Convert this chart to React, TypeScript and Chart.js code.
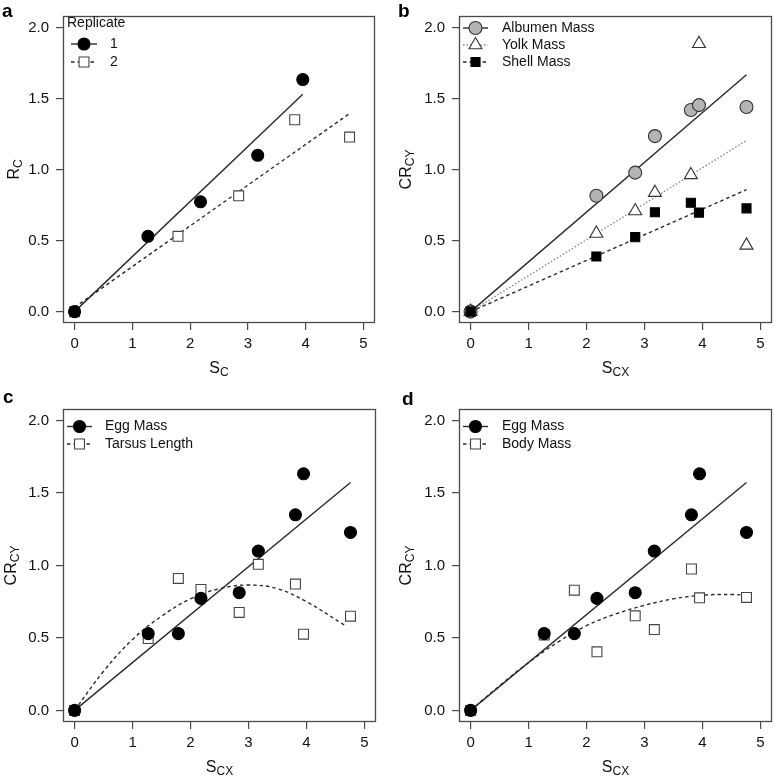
import React, { useEffect, useRef } from 'react';
import { Chart, registerables } from 'chart.js';

Chart.register(...registerables);

// ---------- tick labels ----------
const X_TICKS = [0, 1, 2, 3, 4, 5];
const Y_TICKS = [0, 0.5, 1.0, 1.5, 2.0];

// ---------- panel a ----------
const A_REP1_X = [0, 1.27, 2.18, 3.17, 3.95];
const A_REP1_Y = [0, 0.53, 0.773, 1.10, 1.633];
const A_REP2_X = [0, 1.79, 2.84, 3.81, 4.76];
const A_REP2_Y = [0, 0.53, 0.815, 1.35, 1.228];
const A_FIT1_X = [0, 3.95];
const A_FIT1_Y = [0, 1.53];
const A_FIT2_X = [0, 4.78];
const A_FIT2_Y = [0.03, 1.40];

// ---------- panel b ----------
const B_X = [0, 2.17, 2.84, 3.18, 3.80, 3.94, 4.76];
const B_ALBUMEN = [0, 0.815, 0.978, 1.235, 1.419, 1.453, 1.44];
const B_YOLK = [0, 0.55, 0.708, 0.837, 0.962, 1.885, 0.466];
const B_SHELL = [0, 0.388, 0.524, 0.699, 0.766, 0.697, 0.727];
const B_FIT_X = [0, 4.76];
const B_FIT_ALBUMEN = [0, 1.666];
const B_FIT_YOLK = [0, 1.204];
const B_FIT_SHELL = [0, 0.858];

// ---------- panels c, d ----------
const CD_X = [0, 1.27, 1.79, 2.18, 2.84, 3.17, 3.81, 3.95, 4.76];
const EGG_MASS = [0, 0.53, 0.53, 0.773, 0.812, 1.10, 1.35, 1.633, 1.228];
const TARSUS_LENGTH = [0, 0.496, 0.911, 0.835, 0.676, 1.008, 0.872, 0.526, 0.65];
const BODY_MASS = [0, 0.52, 0.83, 0.404, 0.653, 0.558, 0.976, 0.777, 0.78];
const EGG_FIT_X = [0, 4.76];
const EGG_FIT_Y = [0, 1.573];
const TARSUS_CURVE_X = [0, 0.5, 1, 1.5, 2, 2.5, 3, 3.5, 4, 4.65];
const TARSUS_CURVE_Y = [0, 0.27, 0.49, 0.65, 0.77, 0.84, 0.865, 0.84, 0.75, 0.59];
const BODY_CURVE_X = [0, 0.5, 1, 1.5, 2, 2.5, 3, 3.5, 4, 4.5, 4.76];
const BODY_CURVE_Y = [0, 0.17, 0.33, 0.47, 0.585, 0.665, 0.725, 0.77, 0.795, 0.8, 0.795];

// ---------- styles ----------
const FONT = '"Liberation Sans", Arial, Helvetica, sans-serif';
const TEXT = '#111';
const AXIS = '#4a4a4a';

const MARKERS: Record<string, any> = {
  filledCircle: { pointStyle: 'circle', radius: 6, fill: '#000', stroke: '#000' },
  openSquare: { pointStyle: 'rect', radius: 7, fill: '#fff', stroke: '#444' },
  greyCircle: { pointStyle: 'circle', radius: 6.5, fill: '#b4b4b4', stroke: '#333' },
  openTriangle: { pointStyle: 'triangle', radius: 7.5, fill: '#fff', stroke: '#333' },
  filledSquare: { pointStyle: 'rect', radius: 6.4, fill: '#000', stroke: '#000' },
};
const LINES: Record<string, any> = {
  solid: { color: '#2a2a2a', dash: [], width: 1.4 },
  dashed: { color: '#2a2a2a', dash: [3.5, 3], width: 1.4 },
  dotted: { color: '#888', dash: [1.5, 2], width: 1.4 },
};

function pts(xs: number[], ys: number[]) {
  return xs.map((x, i) => ({ x, y: ys[i] }));
}
function pointDs(label: string, xs: number[], ys: number[], marker: string, order: number) {
  const m = MARKERS[marker];
  return {
    label, data: pts(xs, ys), showLine: false,
    pointStyle: m.pointStyle, pointRadius: m.radius, pointHoverRadius: m.radius,
    pointBackgroundColor: m.fill, pointBorderColor: m.stroke, pointBorderWidth: 1.1, order,
  };
}
function lineDs(label: string, xs: number[], ys: number[], line: string, tension = 0) {
  const l = LINES[line];
  return {
    label, data: pts(xs, ys), showLine: true, pointRadius: 0, pointHoverRadius: 0,
    borderColor: l.color, borderWidth: l.width, borderDash: l.dash, tension, fill: false, order: 20,
  };
}

function drawMarker(ctx: CanvasRenderingContext2D, m: any, x: number, y: number) {
  ctx.beginPath();
  if (m.pointStyle === 'circle') {
    ctx.arc(x, y, m.radius, 0, Math.PI * 2);
  } else if (m.pointStyle === 'rect') {
    const s = m.radius * Math.SQRT1_2;
    ctx.rect(x - s, y - s, 2 * s, 2 * s);
  } else {
    for (let k = 0; k < 3; k++) {
      const ang = (k * 2 * Math.PI) / 3;
      const px = x + Math.sin(ang) * m.radius;
      const py = y - Math.cos(ang) * m.radius;
      if (k === 0) ctx.moveTo(px, py); else ctx.lineTo(px, py);
    }
  }
  ctx.closePath();
  ctx.setLineDash([]);
  ctx.fillStyle = m.fill;
  ctx.fill();
  ctx.strokeStyle = m.stroke;
  ctx.lineWidth = 1.1;
  ctx.stroke();
}

const MAIN_FONT = `16px ${FONT}`;
const SUB_FONT = `12px ${FONT}`;

function drawSub(ctx: CanvasRenderingContext2D, main: string, sub: string, cx: number, baseline: number) {
  ctx.font = MAIN_FONT;
  const w1 = ctx.measureText(main).width;
  ctx.font = SUB_FONT;
  const w2 = ctx.measureText(sub).width;
  const x0 = cx - (w1 + w2) / 2;
  ctx.textAlign = 'left';
  ctx.textBaseline = 'alphabetic';
  ctx.fillStyle = TEXT;
  ctx.font = MAIN_FONT;
  ctx.fillText(main, x0, baseline);
  ctx.font = SUB_FONT;
  ctx.fillText(sub, x0 + w1, baseline + 3);
}

function overlay(cfg: any) {
  return {
    id: 'overlay_' + cfg.key,
    afterDraw(chart: any) {
      const ctx: CanvasRenderingContext2D = chart.ctx;
      const a = chart.chartArea;
      ctx.save();
      // plot box
      ctx.setLineDash([]);
      ctx.strokeStyle = AXIS;
      ctx.lineWidth = 1.3;
      ctx.strokeRect(Math.round(a.left) + 0.5, Math.round(a.top) + 0.5,
        Math.round(a.right - a.left) - 1, Math.round(a.bottom - a.top) - 1);
      // panel letter
      ctx.fillStyle = '#000';
      ctx.font = `bold 19px ${FONT}`;
      ctx.textAlign = 'left';
      ctx.textBaseline = 'alphabetic';
      ctx.fillText(cfg.letter.text, cfg.letter.x, cfg.letter.y);
      // axis titles
      drawSub(ctx, cfg.xTitle.main, cfg.xTitle.sub, (a.left + a.right) / 2, cfg.xTitle.y);
      ctx.save();
      ctx.translate(cfg.yTitle.x, (a.top + a.bottom) / 2);
      ctx.rotate(-Math.PI / 2);
      drawSub(ctx, cfg.yTitle.main, cfg.yTitle.sub, 0, 0);
      ctx.restore();
      // legend
      const lg = cfg.legend;
      ctx.font = `14px ${FONT}`;
      ctx.fillStyle = TEXT;
      ctx.textBaseline = 'middle';
      if (lg.title) {
        ctx.textAlign = 'left';
        ctx.fillText(lg.title, lg.titleX, lg.titleY);
      }
      lg.items.forEach((it: any, i: number) => {
        const y = lg.rows[i];
        const l = LINES[it.line];
        ctx.beginPath();
        ctx.setLineDash(l.dash);
        ctx.strokeStyle = l.color;
        ctx.lineWidth = l.width;
        ctx.moveTo(lg.x0, y);
        ctx.lineTo(lg.x1, y);
        ctx.stroke();
        drawMarker(ctx, MARKERS[it.marker], (lg.x0 + lg.x1) / 2, y);
        ctx.font = `14px ${FONT}`;
        ctx.fillStyle = TEXT;
        ctx.textAlign = 'left';
        ctx.textBaseline = 'middle';
        ctx.fillText(it.label, lg.textX, y);
      });
      ctx.restore();
    },
  };
}

const PANELS: any[] = [
  {
    key: 'a', left: 0, top: 0, width: 387, height: 388,
    padding: { left: 0, top: 11, right: 12, bottom: 0 }, yAxisW: 63, xAxisH: 65,
    letter: { text: 'a', x: 2, y: 17 },
    yTitle: { main: 'R', sub: 'C', x: 19 },
    xTitle: { main: 'S', sub: 'C', y: 373 },
    legend: {
      title: 'Replicate', titleX: 67, titleY: 23, x0: 71, x1: 97, textX: 110, rows: [44, 62],
      items: [
        { label: '1', marker: 'filledCircle', line: 'solid' },
        { label: '2', marker: 'openSquare', line: 'dashed' },
      ],
    },
    datasets: [
      lineDs('Fit 1', A_FIT1_X, A_FIT1_Y, 'solid'),
      lineDs('Fit 2', A_FIT2_X, A_FIT2_Y, 'dashed'),
      pointDs('1', A_REP1_X, A_REP1_Y, 'filledCircle', 1),
      pointDs('2', A_REP2_X, A_REP2_Y, 'openSquare', 2),
    ],
  },
  {
    key: 'b', left: 387, top: 0, width: 387, height: 388,
    padding: { left: 0, top: 11, right: 2, bottom: 0 }, yAxisW: 72, xAxisH: 65,
    letter: { text: 'b', x: 11, y: 17 },
    yTitle: { main: 'CR', sub: 'CY', x: 24 },
    xTitle: { main: 'S', sub: 'CX', y: 373 },
    legend: {
      x0: 76, x1: 101, textX: 115, rows: [28, 45, 62],
      items: [
        { label: 'Albumen Mass', marker: 'greyCircle', line: 'solid' },
        { label: 'Yolk Mass', marker: 'openTriangle', line: 'dotted' },
        { label: 'Shell Mass', marker: 'filledSquare', line: 'dashed' },
      ],
    },
    datasets: [
      lineDs('Albumen fit', B_FIT_X, B_FIT_ALBUMEN, 'solid'),
      lineDs('Yolk fit', B_FIT_X, B_FIT_YOLK, 'dotted'),
      lineDs('Shell fit', B_FIT_X, B_FIT_SHELL, 'dashed'),
      pointDs('Albumen Mass', B_X, B_ALBUMEN, 'greyCircle', 3),
      pointDs('Yolk Mass', B_X, B_YOLK, 'openTriangle', 2),
      pointDs('Shell Mass', B_X, B_SHELL, 'filledSquare', 1),
    ],
  },
  {
    key: 'c', left: 0, top: 388, width: 387, height: 389,
    padding: { left: 0, top: 21, right: 11, bottom: 0 }, yAxisW: 63, xAxisH: 55,
    letter: { text: 'c', x: 3, y: 15 },
    yTitle: { main: 'CR', sub: 'CY', x: 16 },
    xTitle: { main: 'S', sub: 'CX', y: 384 },
    legend: {
      x0: 67, x1: 92, textX: 105, rows: [38.5, 56],
      items: [
        { label: 'Egg Mass', marker: 'filledCircle', line: 'solid' },
        { label: 'Tarsus Length', marker: 'openSquare', line: 'dashed' },
      ],
    },
    datasets: [
      lineDs('Egg fit', EGG_FIT_X, EGG_FIT_Y, 'solid'),
      lineDs('Tarsus fit', TARSUS_CURVE_X, TARSUS_CURVE_Y, 'dashed', 0.4),
      pointDs('Egg Mass', CD_X, EGG_MASS, 'filledCircle', 1),
      pointDs('Tarsus Length', CD_X, TARSUS_LENGTH, 'openSquare', 2),
    ],
  },
  {
    key: 'd', left: 387, top: 388, width: 387, height: 389,
    padding: { left: 0, top: 21, right: 2, bottom: 0 }, yAxisW: 72, xAxisH: 55,
    letter: { text: 'd', x: 15, y: 17 },
    yTitle: { main: 'CR', sub: 'CY', x: 24 },
    xTitle: { main: 'S', sub: 'CX', y: 384 },
    legend: {
      x0: 76, x1: 101, textX: 115, rows: [38.5, 56],
      items: [
        { label: 'Egg Mass', marker: 'filledCircle', line: 'solid' },
        { label: 'Body Mass', marker: 'openSquare', line: 'dashed' },
      ],
    },
    datasets: [
      lineDs('Egg fit', EGG_FIT_X, EGG_FIT_Y, 'solid'),
      lineDs('Body fit', BODY_CURVE_X, BODY_CURVE_Y, 'dashed', 0.4),
      pointDs('Egg Mass', CD_X, EGG_MASS, 'filledCircle', 1),
      pointDs('Body Mass', CD_X, BODY_MASS, 'openSquare', 2),
    ],
  },
];

function Panel({ cfg }: { cfg: any }) {
  const ref = useRef<HTMLCanvasElement>(null);
  useEffect(() => {
    if (!ref.current) return;
    const tickFont = { family: FONT, size: 15 };
    const chart = new Chart(ref.current, {
      type: 'scatter',
      data: { datasets: cfg.datasets },
      options: {
        animation: false,
        responsive: false,
        events: [],
        layout: { padding: cfg.padding, autoPadding: false },
        plugins: { legend: { display: false }, tooltip: { enabled: false } },
        scales: {
          x: {
            type: 'linear', min: -0.2, max: 5.2,
            afterBuildTicks: (s: any) => { s.ticks = X_TICKS.map((v) => ({ value: v })); },
            afterFit: (s: any) => { s.height = cfg.xAxisH; },
            ticks: { font: tickFont, color: TEXT, padding: 5, maxRotation: 0, callback: (v: any) => String(v) },
            grid: { display: true, drawOnChartArea: false, drawTicks: true, tickLength: 7, color: AXIS, lineWidth: 1.2 },
            border: { display: false },
          },
          y: {
            type: 'linear', min: -0.08, max: 2.08,
            afterBuildTicks: (s: any) => { s.ticks = Y_TICKS.map((v) => ({ value: v })); },
            afterFit: (s: any) => { s.width = cfg.yAxisW; },
            ticks: { font: tickFont, color: TEXT, padding: 7, callback: (v: any) => Number(v).toFixed(1) },
            grid: { display: true, drawOnChartArea: false, drawTicks: true, tickLength: 7, color: AXIS, lineWidth: 1.2 },
            border: { display: false },
          },
        },
      } as any,
      plugins: [overlay(cfg)],
    });
    return () => chart.destroy();
  }, [cfg]);
  return (
    <canvas
      ref={ref}
      width={cfg.width}
      height={cfg.height}
      style={{ position: 'absolute', left: cfg.left, top: cfg.top, width: cfg.width, height: cfg.height, display: 'block' }}
    />
  );
}

export default function App() {
  return (
    <div style={{ position: 'absolute', left: 0, top: 0, width: 774, height: 777, background: '#fff' }}>
      {PANELS.map((p) => <Panel key={p.key} cfg={p} />)}
    </div>
  );
}
